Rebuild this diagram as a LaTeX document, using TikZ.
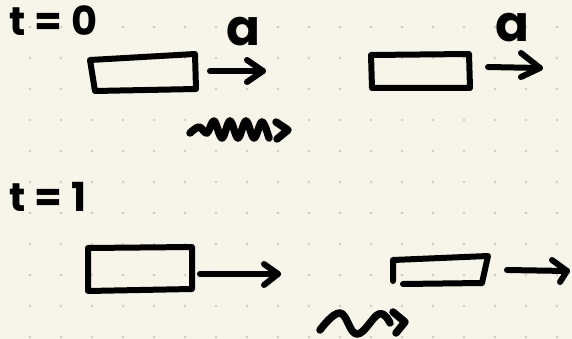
\documentclass[tikz,border=0pt]{standalone}
\usepackage{fontspec}
\setmainfont{Poppins}
\definecolor{paper}{RGB}{247,245,233}
\definecolor{dotgray}{RGB}{206,205,197}
\begin{document}
\begin{tikzpicture}[x=1pt,y=-1pt,
  ink/.style={line width=6pt, line cap=round, line join=round, black},
  wave/.style={ink, line width=7.5pt},
  label/.style={inner sep=0pt, font=\fontsize{40}{40}\selectfont\bfseries},
  accel/.style={inner sep=0pt, font=\fontsize{50}{50}\selectfont\bfseries}]
% dotted paper
\fill[paper] (0,0) rectangle (572,339);
\useasboundingbox (0,0) rectangle (572,339);
\foreach \i in {0,...,18}
  \foreach \j in {0,...,10}
    \fill[dotgray] (-1+31*\i, 27+31*\j) circle (1.4);

% ---- t = 0 ----
\node[label, anchor=base west] (t0) at (9,36) {t\hspace{9pt}=\hspace{9pt}0};

\coordinate (b1a) at (90,60);
\coordinate (b1b) at (195,54);
\coordinate (b1c) at (196,89);
\coordinate (b1d) at (95,91);
\draw[ink] (b1a) -- (b1b) -- (b1c) -- (b1d) -- cycle;
\coordinate (s1) at (210,71);
\coordinate (e1) at (263,71);
\draw[ink] (s1) -- (e1);
\draw[ink] (247,60) -- (e1) -- (247,82);
\node[accel, anchor=base] (a1) at (243,46) {a};

\draw[wave] plot[smooth, tension=0.6] coordinates {(190,133) (199,127) (207,133) (214,121) (222,138) (230,121) (238,138) (246,121) (254,138) (262,122) (269,138)};
\draw[wave] (276,122) -- (288,130) -- (277,139);

\coordinate (b2a) at (371,55);
\coordinate (b2b) at (469,54);
\coordinate (b2c) at (470,88);
\coordinate (b2d) at (372,88);
\draw[ink] (b2a) -- (b2b) -- (b2c) -- (b2d) -- cycle;
\coordinate (s2) at (488,67);
\coordinate (e2) at (540,68);
\draw[ink] (s2) -- (e2);
\draw[ink] (521,53) -- (e2) -- (521,77);
\node[accel, anchor=base] (a2) at (512,42) {a};

% ---- t = 1 ----
\node[label, anchor=base west] (t1) at (9,211) {t\hspace{9pt}=\hspace{9pt}1};

\coordinate (b3a) at (88,248);
\coordinate (b3b) at (192,247);
\coordinate (b3c) at (192,289);
\coordinate (b3d) at (88,291);
\draw[ink] (b3a) -- (b3b) -- (b3c) -- (b3d) -- cycle;
\coordinate (s3) at (200,274);
\coordinate (e3) at (278,274);
\draw[ink] (s3) -- (e3);
\draw[ink] (264,264) -- (e3) -- (264,285);

\draw[ink] (393,281) -- (393,260) -- (488,256) -- (482,283) -- (403,284);
\coordinate (s4) at (507,270);
\coordinate (e4) at (567,271);
\draw[ink] (s4) -- (e4);
\draw[ink] (552,260) -- (e4) -- (560,282);

\draw[wave] plot[smooth, tension=0.7] coordinates {(320,330) (340,313) (357,334) (379,314) (390,323)};
\draw[wave] (393,312) -- (405,322) -- (396,333);
\end{tikzpicture}
\end{document}
